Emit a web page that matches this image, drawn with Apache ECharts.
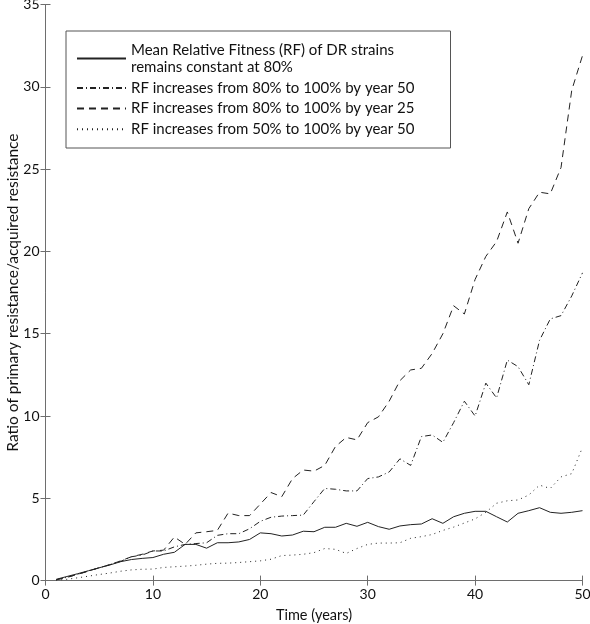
<!DOCTYPE html>
<html>
<head>
<meta charset="utf-8">
<script src="https://cdn.jsdelivr.net/npm/echarts@6/dist/echarts.min.js"></script>
<style>
html,body{margin:0;padding:0;background:#fff;}
#chart{width:590px;height:624px;}
</style>
</head>
<body>
<div id="chart"></div>
<script>
var years = [1,2,3,4,5,6,7,8,9,10,11,12,13,14,15,16,17,18,19,20,21,22,23,24,25,26,27,28,29,30,31,32,33,34,35,36,37,38,39,40,41,42,43,44,45,46,47,48,49,50];

var rfConstant80 = [0.08,0.25,0.42,0.6,0.78,0.95,1.15,1.28,1.35,1.4,1.6,1.72,2.2,2.2,1.97,2.3,2.3,2.35,2.5,2.9,2.85,2.71,2.77,3.0,2.97,3.24,3.24,3.48,3.3,3.54,3.28,3.12,3.32,3.4,3.44,3.76,3.48,3.88,4.09,4.21,4.21,3.88,3.56,4.09,4.25,4.43,4.15,4.09,4.15,4.25];

var rf80to100by50 = [0.05,0.2,0.38,0.58,0.78,0.97,1.17,1.45,1.55,1.8,1.8,2.05,2.2,2.25,2.3,2.75,2.85,2.85,3.15,3.6,3.85,3.92,3.95,3.98,4.8,5.6,5.55,5.45,5.45,6.2,6.3,6.6,7.4,7.0,8.75,8.85,8.4,9.6,10.9,10.0,12.0,11.1,13.4,13.0,11.9,14.6,15.9,16.1,17.3,18.7];

var rf80to100by25 = [0.05,0.2,0.38,0.58,0.78,0.97,1.2,1.45,1.6,1.8,1.85,2.65,2.2,2.9,2.97,3.05,4.1,3.95,3.95,4.65,5.35,5.1,6.2,6.72,6.65,7.0,8.15,8.7,8.55,9.6,9.95,10.9,12.15,12.8,12.9,13.8,15.0,16.7,16.2,18.3,19.7,20.6,22.4,20.5,22.6,23.6,23.5,25.1,29.8,31.9];

var rf50to100by50 = [0.03,0.08,0.17,0.27,0.37,0.46,0.57,0.65,0.69,0.7,0.8,0.84,0.88,0.93,1.0,1.05,1.06,1.1,1.15,1.2,1.3,1.52,1.55,1.6,1.7,1.95,1.9,1.65,1.95,2.2,2.28,2.28,2.3,2.57,2.67,2.8,3.05,3.25,3.5,3.75,4.15,4.7,4.85,4.9,5.2,5.8,5.6,6.3,6.5,8.1];

var seriesNames = [
  "Mean Relative Fitness (RF) of DR strains\nremains constant at 80%",
  "RF increases from 80% to 100% by year 50",
  "RF increases from 80% to 100% by year 25",
  "RF increases from 50% to 100% by year 50"
];

var xTicks = [0,10,20,30,40,50];
var yTicks = [0,5,10,15,20,25,30,35];

var xTitle = "Time (years)";
var yTitle = "Ratio of primary resistance/acquired resistance";

function pairs(vals){ return years.map(function(y,i){ return [y, vals[i]]; }); }

var FONT = 'Lato';
var axisCol = '#6e6e6e';
var lineCol = '#222';

var chart = echarts.init(document.getElementById('chart'), null, {renderer:'canvas'});

function mkSeries(name, vals, type){
  return {
    name: name, type:'line', data: pairs(vals), symbol:'none', showSymbol:false,
    xAxisIndex:0, yAxisIndex:0,
    lineStyle:{color:lineCol, width:1, type:type},
    itemStyle:{color:lineCol},
    animation:false
  };
}

var option = {
  backgroundColor:'#fff',
  animation:false,
  grid:{left:45.5, right:7.5, top:4.6, bottom:43.4, containLabel:false, outerBoundsMode:'none'},
  legend:{
    orient:'vertical', left:66, top:31,
    padding:[10,36,10,10], itemGap:3,
    itemWidth:49, itemHeight:14,
    borderColor:'#555', borderWidth:1, backgroundColor:'#fff',
    itemStyle:{opacity:0},
    textStyle:{fontFamily:FONT, fontSize:15, color:'#111', lineHeight:17.6},
    data: seriesNames
  },
  xAxis:[{
    type:'value', min:xTicks[0], max:xTicks[xTicks.length-1], interval:10, position:'bottom',
    name:xTitle, nameLocation:'middle', nameGap:27, nameMoveOverlap:false,
    nameTextStyle:{fontFamily:FONT, fontSize:14.5, color:'#111'},
    axisLine:{show:true, lineStyle:{color:axisCol, width:1}},
    axisTick:{show:true, inside:true, length:5, lineStyle:{color:axisCol}},
    axisLabel:{fontFamily:FONT, fontSize:14, color:'#111', margin:7},
    splitLine:{show:false}
  },{
    type:'value', min:xTicks[0], max:xTicks[xTicks.length-1], interval:10, position:'top',
    axisLine:{show:true, lineStyle:{color:axisCol, width:1}},
    axisTick:{show:true, inside:true, length:5, lineStyle:{color:axisCol}},
    axisLabel:{show:false}, splitLine:{show:false}
  }],
  yAxis:[{
    type:'value', min:yTicks[0], max:yTicks[yTicks.length-1], interval:5, position:'left',
    name:yTitle, nameLocation:'middle', nameGap:25, nameRotate:90, nameMoveOverlap:false,
    nameTextStyle:{fontFamily:FONT, fontSize:15.5, color:'#111'},
    axisLine:{show:true, lineStyle:{color:axisCol, width:1}},
    axisTick:{show:true, inside:true, length:5, lineStyle:{color:axisCol}},
    axisLabel:{fontFamily:FONT, fontSize:14, color:'#111', margin:6},
    splitLine:{show:false}
  },{
    type:'value', min:yTicks[0], max:yTicks[yTicks.length-1], interval:5, position:'right',
    axisLine:{show:true, lineStyle:{color:axisCol, width:1}},
    axisTick:{show:true, inside:true, length:5, lineStyle:{color:axisCol}},
    axisLabel:{show:false}, splitLine:{show:false}
  }],
  series:[
    mkSeries(seriesNames[0], rfConstant80, 'solid'),
    mkSeries(seriesNames[1], rf80to100by50, [6,3,1,3]),
    mkSeries(seriesNames[2], rf80to100by25, [7,5]),
    mkSeries(seriesNames[3], rf50to100by50, [1,4])
  ]
};
chart.setOption(option);
</script>
</body>
</html>
